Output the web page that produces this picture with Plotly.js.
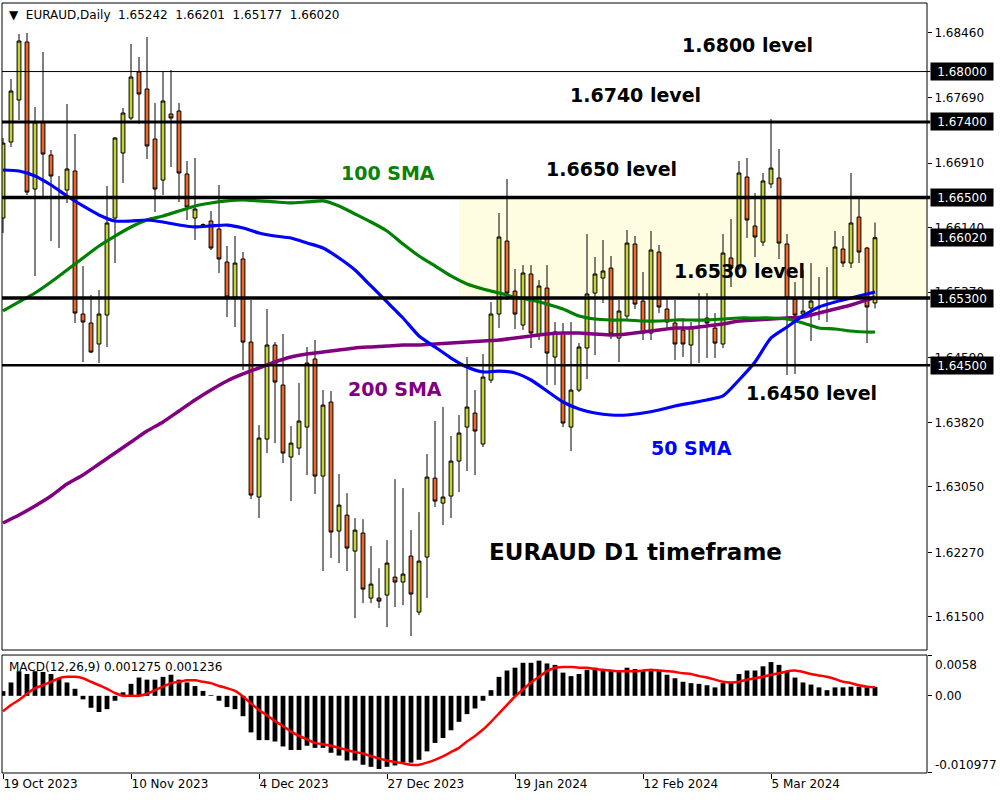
<!DOCTYPE html>
<html><head><meta charset="utf-8">
<script src="https://cdn.plot.ly/plotly-3.0.1.min.js"></script>
<style>html,body{margin:0;padding:0;background:#fff}#chart{width:1000px;height:800px}</style>
</head><body><div id="chart"></div>
<script>
// ---- Daily EURAUD candles (bar 0 = 19 Oct 2023, bar 109 = 22 Mar 2024) ----
const open = [1.66254,1.67160,1.67661,1.68352,1.66600,1.67399,1.67005,1.66505,1.66588,1.66815,
1.65110,1.65003,1.64753,1.65098,1.66254,1.67029,1.67446,1.67995,1.67792,1.67196,
1.66707,1.67494,1.67530,1.66779,1.66254,1.66175,1.66219,1.66123,1.65730,1.65313,
1.65766,1.64776,1.62929,1.63620,1.64741,1.64264,1.63406,1.63513,1.63763,1.64574,
1.63179,1.64061,1.62524,1.62714,1.62285,1.62500,1.61725,1.61725,1.61761,1.61975,
1.61916,1.62226,1.61558,1.62214,1.63155,1.62857,1.62941,1.63358,1.63763,1.63930,
1.63561,1.64323,1.65110,1.65980,1.65384,1.64979,1.65587,1.64860,1.65420,1.64598,
1.64884,1.63763,1.64204,1.64705,1.65360,1.65539,1.65658,1.64824,1.65086,1.65945,
1.65265,1.64884,1.65849,1.65170,1.65003,1.64919,1.64741,1.65039,1.65062,1.64943,
1.64753,1.65778,1.65658,1.66743,1.66159,1.65968,1.66660,1.66731,1.65945,1.65289,
1.65110,1.65182,1.65289,1.65295,1.65313,1.65885,1.65718,1.66266,1.65897,1.65242];
const high = [1.67208,1.67911,1.68448,1.68460,1.67578,1.68233,1.67065,1.66755,1.67613,1.67256,
1.65682,1.65337,1.65396,1.66636,1.67220,1.67566,1.68329,1.68174,1.68412,1.67625,
1.68007,1.68019,1.67625,1.66934,1.66970,1.66190,1.66338,1.66648,1.65921,1.66040,
1.65849,1.65277,1.63787,1.65170,1.64776,1.64872,1.63775,1.64288,1.64717,1.64800,
1.64204,1.64192,1.63203,1.62976,1.62678,1.62666,1.62345,1.62082,1.62416,1.63143,
1.63036,1.62536,1.62750,1.63441,1.63835,1.64002,1.63656,1.63906,1.64598,1.64204,
1.64633,1.65253,1.66314,1.66719,1.65647,1.65694,1.65694,1.65515,1.65694,1.65015,
1.65003,1.65015,1.64764,1.66064,1.65790,1.65992,1.65802,1.65277,1.66111,1.66040,
1.65611,1.66100,1.65933,1.65313,1.65277,1.65062,1.65015,1.65360,1.65360,1.65122,
1.66064,1.66243,1.66934,1.66970,1.66552,1.66791,1.67435,1.67077,1.66064,1.65492,
1.65635,1.65718,1.65551,1.65670,1.66100,1.66040,1.66791,1.66481,1.65909,1.66201];
const low = [1.66076,1.67101,1.67423,1.66529,1.65563,1.66517,1.65980,1.65897,1.66433,1.65003,
1.64538,1.64645,1.64526,1.64717,1.65718,1.66672,1.67423,1.67375,1.66958,1.66326,
1.66529,1.66862,1.66445,1.66231,1.65992,1.66160,1.65873,1.65599,1.65074,1.64955,
1.64443,1.62905,1.62678,1.63453,1.63572,1.63334,1.62881,1.63429,1.63191,1.62965,
1.62047,1.62202,1.62142,1.62047,1.61486,1.61665,1.61665,1.61606,1.61379,1.61618,
1.61641,1.61272,1.61522,1.61725,1.62810,1.62595,1.62678,1.62988,1.63239,1.63191,
1.63525,1.64288,1.64943,1.65277,1.64931,1.64919,1.64705,1.64800,1.64264,1.64264,
1.63763,1.63477,1.64180,1.64335,1.64621,1.65241,1.64812,1.64538,1.65039,1.65170,
1.64800,1.64800,1.65122,1.64919,1.64562,1.64598,1.64514,1.64526,1.64586,1.64586,
1.64705,1.65432,1.65635,1.66016,1.65790,1.65921,1.66612,1.65766,1.64383,1.64395,
1.65086,1.64789,1.65039,1.65015,1.65301,1.65670,1.65658,1.65718,1.64764,1.65177];
const close = [1.67148,1.67768,1.68364,1.66564,1.67399,1.67017,1.66755,1.66493,1.66839,1.65122,
1.65015,1.64657,1.65110,1.66195,1.67208,1.67506,1.67935,1.67733,1.67113,1.66600,
1.67649,1.67446,1.66791,1.66386,1.66362,1.66170,1.65897,1.65766,1.65313,1.65718,
1.64776,1.62953,1.63632,1.64741,1.64300,1.63453,1.63572,1.63835,1.64526,1.63179,
1.64025,1.62512,1.62833,1.62321,1.62535,1.61832,1.61892,1.61689,1.62142,1.61916,
1.62011,1.61773,1.62166,1.63167,1.62881,1.62929,1.63358,1.63692,1.64002,1.63716,
1.64359,1.65110,1.66028,1.65360,1.65110,1.65599,1.64884,1.65444,1.64645,1.64896,
1.63811,1.64204,1.64717,1.65349,1.65587,1.65623,1.64872,1.65146,1.65956,1.65229,
1.64884,1.65873,1.65194,1.65015,1.64753,1.64753,1.64955,1.65045,1.65003,1.64764,
1.65837,1.65658,1.66791,1.66231,1.66028,1.66696,1.66850,1.65956,1.65301,1.65098,
1.65146,1.65265,1.65301,1.65301,1.65909,1.65718,1.66195,1.65849,1.65194,1.66020];

// ---- Moving averages, read at every second bar ----
const smaBars = [0,2,4,6,8,10,12,14,16,18,20,22,24,26,28,30,32,34,36,38,40,42,44,46,48,50,52,54,56,58,60,62,64,66,68,70,72,74,76,78,80,82,84,86,88,90,92,94,96,98,100,102,104,106,108,109];
const sma50 = [1.66827,1.66815,1.66755,1.66648,1.66517,1.66398,1.66291,1.66219,1.66219,1.66231,
1.66207,1.66171,1.66148,1.66160,1.66171,1.66136,1.66076,1.66040,1.66017,1.65957,
1.65897,1.65778,1.65635,1.65445,1.65254,1.65063,1.64849,1.64718,1.64586,1.64479,
1.64420,1.64431,1.64408,1.64324,1.64193,1.64062,1.63979,1.63931,1.63907,1.63907,
1.63931,1.63967,1.64014,1.64050,1.64086,1.64134,1.64324,1.64539,1.64825,1.64956,
1.65087,1.65194,1.65254,1.65301,1.65349,1.65373];
const sma100 = [1.65147,1.65254,1.65361,1.65492,1.65635,1.65778,1.65921,1.66040,1.66148,1.66231,
1.66279,1.66338,1.66398,1.66434,1.66458,1.66469,1.66458,1.66446,1.66434,1.66446,
1.66458,1.66398,1.66303,1.66207,1.66100,1.65945,1.65802,1.65683,1.65564,1.65468,
1.65409,1.65361,1.65313,1.65278,1.65230,1.65170,1.65087,1.65051,1.65039,1.65039,
1.65027,1.65027,1.65039,1.65039,1.65039,1.65051,1.65063,1.65063,1.65063,1.65051,
1.65004,1.64944,1.64932,1.64908,1.64896,1.64896];
const sma200 = [1.62620,1.62715,1.62823,1.62942,1.63085,1.63192,1.63323,1.63454,1.63585,1.63716,
1.63824,1.63955,1.64086,1.64205,1.64312,1.64396,1.64467,1.64539,1.64598,1.64634,
1.64658,1.64682,1.64706,1.64718,1.64729,1.64741,1.64741,1.64753,1.64765,1.64777,
1.64789,1.64801,1.64825,1.64849,1.64872,1.64884,1.64884,1.64872,1.64861,1.64872,
1.64896,1.64920,1.64944,1.64944,1.64968,1.64992,1.65027,1.65039,1.65051,1.65063,
1.65075,1.65123,1.65170,1.65218,1.65278,1.65313];

// ---- MACD(12,26,9) ----
const macdHist = [0.00067,0.0019,0.0035,0.0031,0.0035,0.0034,0.0031,0.0025,0.0019,0.0010,
-0.0005,-0.0017,-0.0023,-0.0019,-0.0007,0.0005,0.0017,0.0026,0.0023,0.0023,
0.0027,0.0030,0.0023,0.0019,0.0014,0.0007,0.0001,-0.0007,-0.0016,-0.0019,
-0.0029,-0.0052,-0.0063,-0.0063,-0.0065,-0.0072,-0.0077,-0.0077,-0.0071,-0.0074,
-0.0074,-0.0081,-0.0085,-0.0092,-0.0092,-0.0098,-0.0101,-0.0104,-0.0101,-0.0099,
-0.0095,-0.0095,-0.0091,-0.0079,-0.0067,-0.0060,-0.0049,-0.0037,-0.0026,-0.0018,
-0.0007,0.0008,0.0027,0.0036,0.0040,0.0047,0.0047,0.0050,0.0046,0.0044,
0.0033,0.0028,0.0031,0.0037,0.0040,0.0038,0.0036,0.0035,0.0040,0.0038,
0.0036,0.0038,0.0036,0.0030,0.0025,0.0020,0.0018,0.0017,0.0015,0.0012,
0.0018,0.0019,0.0031,0.0036,0.0036,0.0042,0.0048,0.0044,0.0034,0.0026,
0.0019,0.0016,0.0012,0.0008,0.0012,0.0012,0.0013,0.0013,0.0012,0.001275];
const macdSignal = [-0.0022,-0.0013,-0.0006,0.0003,0.0011,0.0015,0.0020,0.0025,0.0027,0.0027,
0.0025,0.0020,0.0015,0.0010,0.0004,0.0000,0.0000,0.0000,0.0003,0.0008,
0.0013,0.0018,0.0020,0.0022,0.0022,0.0020,0.0018,0.0014,0.0011,0.0007,
-0.0001,-0.0011,-0.0020,-0.0028,-0.0036,-0.0043,-0.0051,-0.0057,-0.0062,-0.0067,
-0.0069,-0.0071,-0.0074,-0.0077,-0.0080,-0.0082,-0.0086,-0.0089,-0.0092,-0.0094,
-0.0096,-0.0098,-0.0098,-0.0095,-0.0091,-0.0086,-0.0080,-0.0074,-0.0065,-0.0057,
-0.0048,-0.0037,-0.0025,-0.0013,-0.0001,0.0009,0.0019,0.0027,0.0035,0.0040,
0.0041,0.0041,0.0040,0.0040,0.0038,0.0037,0.0036,0.0035,0.0035,0.0035,
0.0036,0.0037,0.0036,0.0035,0.0034,0.0032,0.0031,0.0028,0.0026,0.0023,
0.0020,0.0019,0.0020,0.0023,0.0025,0.0027,0.0030,0.0032,0.0035,0.0036,
0.0034,0.0031,0.0029,0.0027,0.0024,0.0020,0.0018,0.0015,0.0013,0.001236];

// ---- Axis labels, levels ----
const xTickBars = [0,16,32,48,64,80,96];
const xTickText = ['19 Oct 2023','10 Nov 2023','4 Dec 2023','27 Dec 2023','19 Jan 2024','12 Feb 2024','5 Mar 2024'];
const priceTicks = [1.6846,1.6769,1.6691,1.6614,1.6537,1.6459,1.6382,1.6305,1.6227,1.6150];
const levelLines = [1.68,1.674,1.665,1.653,1.645];
const levelWidths = [1,3,3.5,3.5,2.5];
const levelLabels = [1.68,1.674,1.665,1.6602,1.653,1.645];
const macdTicks = [0.0058,0,-0.010977];
const macdTickText = ['0.0058','0.00','-0.010977'];
const zoneLow = 1.653, zoneHigh = 1.665, zoneStartBar = 57;
const headerText = '\u25BC\u00a0\u00a0EURAUD,Daily\u00a0\u00a0' + [open[109],high[109],low[109],close[109]].map(v=>v.toFixed(5)).join('\u00a0\u00a0');
const macdText = 'MACD(12,26,9) ' + macdHist[109].toFixed(6) + ' ' + macdSignal[109].toFixed(6);

const barIdx = open.map((_, i) => i);

const traces = [
  {type:'candlestick', x:barIdx, open:open, high:high, low:low, close:close, xaxis:'x', yaxis:'y',
   increasing:{line:{color:'#000', width:1}, fillcolor:'#c4d42c'},
   decreasing:{line:{color:'#000', width:1}, fillcolor:'#f26522'},
   whiskerwidth:0, hoverinfo:'skip'},
  {type:'scatter', mode:'lines', x:smaBars, y:sma200, line:{color:'#800080', width:3.5, shape:'spline', smoothing:0.6}, hoverinfo:'skip'},
  {type:'scatter', mode:'lines', x:smaBars, y:sma100, line:{color:'#008000', width:3.2, shape:'spline', smoothing:0.6}, hoverinfo:'skip'},
  {type:'scatter', mode:'lines', x:smaBars, y:sma50, line:{color:'#0000ff', width:3.2, shape:'spline', smoothing:0.6}, hoverinfo:'skip'},
  {type:'bar', x:barIdx, y:macdHist, xaxis:'x', yaxis:'y2', marker:{color:'#000', line:{width:0}}, width:0.6, hoverinfo:'skip'},
  {type:'scatter', mode:'lines', x:barIdx, y:macdSignal, xaxis:'x', yaxis:'y2', line:{color:'#ff0000', width:2.5, shape:'spline', smoothing:0.5}, hoverinfo:'skip'}
];

const FONT = 'DejaVu Sans';
const shapes = [
  {type:'rect', xref:'x', yref:'y', x0:zoneStartBar, x1:115.5, y0:zoneLow, y1:zoneHigh, fillcolor:'#fffde1', line:{width:0}, layer:'below'}
];
levelLines.forEach((v, k) => shapes.push({type:'line', xref:'x domain', yref:'y', x0:0, x1:1.0035, y0:v, y1:v, line:{color:'#000', width:levelWidths[k]}, layer:'above'}));
shapes.push({type:'rect', xref:'x domain', yref:'y domain', x0:0, x1:1, y0:0, y1:1, line:{color:'#000', width:1}, layer:'above'});
shapes.push({type:'rect', xref:'x domain', yref:'y2 domain', x0:0, x1:1, y0:0, y1:1, line:{color:'#000', width:1}, layer:'above'});

const annotations = [];
levelLabels.forEach(v => annotations.push({xref:'paper', yref:'y', x:1.0032, y:v, xanchor:'left', yanchor:'middle',
  text:v.toFixed(5), showarrow:false, bgcolor:'#000', borderpad:2, width:58, height:13,
  font:{family:FONT, size:12, color:'#fff'}}));
macdTicks.forEach((v, k) => annotations.push({xref:'paper', yref:'y2', x:1.0065, y:v, xanchor:'left', yanchor:'middle',
  yshift: k===0 ? -10 : (k===2 ? 8 : 0), text:macdTickText[k], showarrow:false, font:{family:FONT, size:12, color:'#000'}}));
annotations.push({xref:'paper', yref:'paper', x:0.005, y:0.9845, xanchor:'left', yanchor:'middle', text:headerText, showarrow:false, font:{family:FONT, size:12, color:'#000'}});
annotations.push({xref:'paper', yref:'paper', x:0.0055, y:0.1377, xanchor:'left', yanchor:'middle', text:macdText, showarrow:false, font:{family:FONT, size:12, color:'#000'}});

const notes = [
  {t:'1.6800 level', x:93.06, y:1.68317, c:'#000', s:19},
  {t:'1.6740 level', x:79.0, y:1.67721, c:'#000', s:19},
  {t:'1.6650 level', x:76.0, y:1.66839, c:'#000', s:19},
  {t:'100 SMA', x:48.1, y:1.66791, c:'#0a820a', s:19},
  {t:'1.6530 level', x:92.1, y:1.65623, c:'#000', s:19},
  {t:'200 SMA', x:49.0, y:1.64217, c:'#800080', s:19},
  {t:'1.6450 level', x:101.1, y:1.64169, c:'#000', s:19},
  {t:'50 SMA', x:86.0, y:1.63514, c:'#0000ff', s:19},
  {t:'EURAUD D1 timeframe', x:79.0, y:1.62274, c:'#000', s:23}
];
notes.forEach(n => annotations.push({xref:'x', yref:'y', x:n.x, y:n.y, text:n.t, showarrow:false, xanchor:'center', yanchor:'middle',
  font:{family:FONT, size:n.s, color:n.c, weight:'bold'}}));

const layout = {
  width:1000, height:800,
  margin:{l:2, r:73, t:3, b:27},
  paper_bgcolor:'#ffffff', plot_bgcolor:'#ffffff',
  showlegend:false, hovermode:false, boxgap:0.32, bargap:0.4,
  xaxis:{domain:[0,1], anchor:'y2', range:[-0.125,115.5], showgrid:false, zeroline:false, showline:false,
    tickvals:xTickBars, ticktext:xTickText, ticks:'outside', ticklen:5, tickcolor:'#000',
    ticklabelposition:'outside right', tickfont:{family:FONT, size:12, color:'#000'},
    rangeslider:{visible:false}, fixedrange:true},
  yaxis:{domain:[0.1597,1], anchor:'x', side:'right', range:[1.61106,1.68817], showgrid:false, zeroline:false, showline:false,
    tickvals:priceTicks, ticktext:priceTicks.map(v=>v.toFixed(5)), ticks:'outside', ticklen:4, tickcolor:'#000',
    tickfont:{family:FONT, size:12, color:'#000'}, fixedrange:true},
  yaxis2:{domain:[0,0.1532], anchor:'x', side:'right', range:[-0.010977,0.0058], showgrid:false, zeroline:false, showline:false,
    tickvals:macdTicks, showticklabels:false, ticks:'outside', ticklen:4, tickcolor:'#000', fixedrange:true},
  shapes:shapes, annotations:annotations
};

Plotly.newPlot('chart', traces, layout, {displayModeBar:false, staticPlot:true});
</script>
</body></html>
